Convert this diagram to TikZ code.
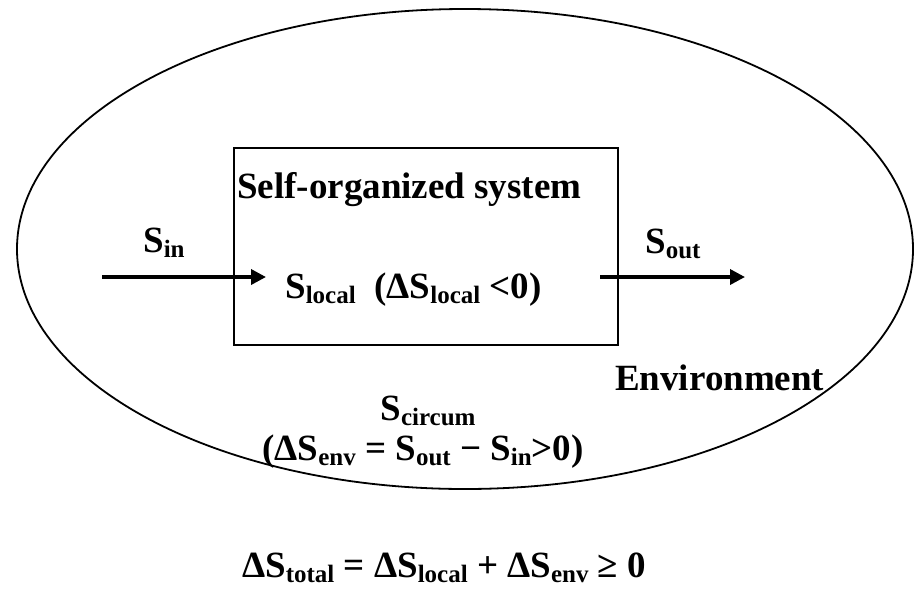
\documentclass[tikz,border=0pt]{standalone}
\usepackage{fontspec}
\setmainfont{Liberation Serif}
\usetikzlibrary{shapes.geometric,arrows.meta}
\newcommand{\bigtxt}{\fontsize{37}{42}\selectfont\bfseries}
\newcommand{\sbs}[1]{\raisebox{-0.16em}{\fontsize{25}{27}\selectfont\bfseries #1}}
\begin{document}
\begin{tikzpicture}[x=1pt,y=-1pt,
  lbl/.style={inner sep=0pt,font=\bigtxt},
  flow/.style={line width=3.5pt,-{Triangle[length=15pt,width=15pt]}},
  frame/.style={draw,line width=1.8pt}]
\useasboundingbox (0,0) rectangle (915,603);
\node[frame,ellipse,minimum width=896pt,minimum height=480pt,inner sep=0pt] (env) at (465,249) {};
\node[frame,rectangle,minimum width=384pt,minimum height=197pt,inner sep=0pt] (sys) at (426,246.5) {};
\node[lbl,anchor=base west] (title) at (237,198) {Self-organized system};
\node[lbl,anchor=base west] (loc) at (285,298) {S\sbs{local}\ \ (ΔS\sbs{local} <0)};
\node[lbl,anchor=base west] (sin) at (143,252) {S\sbs{in}};
\node[lbl,anchor=base west] (sout) at (645,253) {S\sbs{out}};
\node[lbl,anchor=base west] (envl) at (615,390) {Environment};
\node[lbl,anchor=base] (circ) at (428,420) {S\sbs{circum}};
\node[lbl,anchor=base] (denv) at (423,460) {(ΔS\sbs{env} = S\sbs{out} − S\sbs{in}>0)};
\node[lbl,anchor=base] (tot) at (444,577) {ΔS\sbs{total} = ΔS\sbs{local} + ΔS\sbs{env} ≥ 0};
\coordinate (a1) at (102,277);
\coordinate (a2) at (266,277);
\coordinate (b1) at (600,277);
\coordinate (b2) at (745,277);
\draw[flow] (a1) -- (a2);
\draw[flow] (b1) -- (b2);
\end{tikzpicture}
\end{document}
